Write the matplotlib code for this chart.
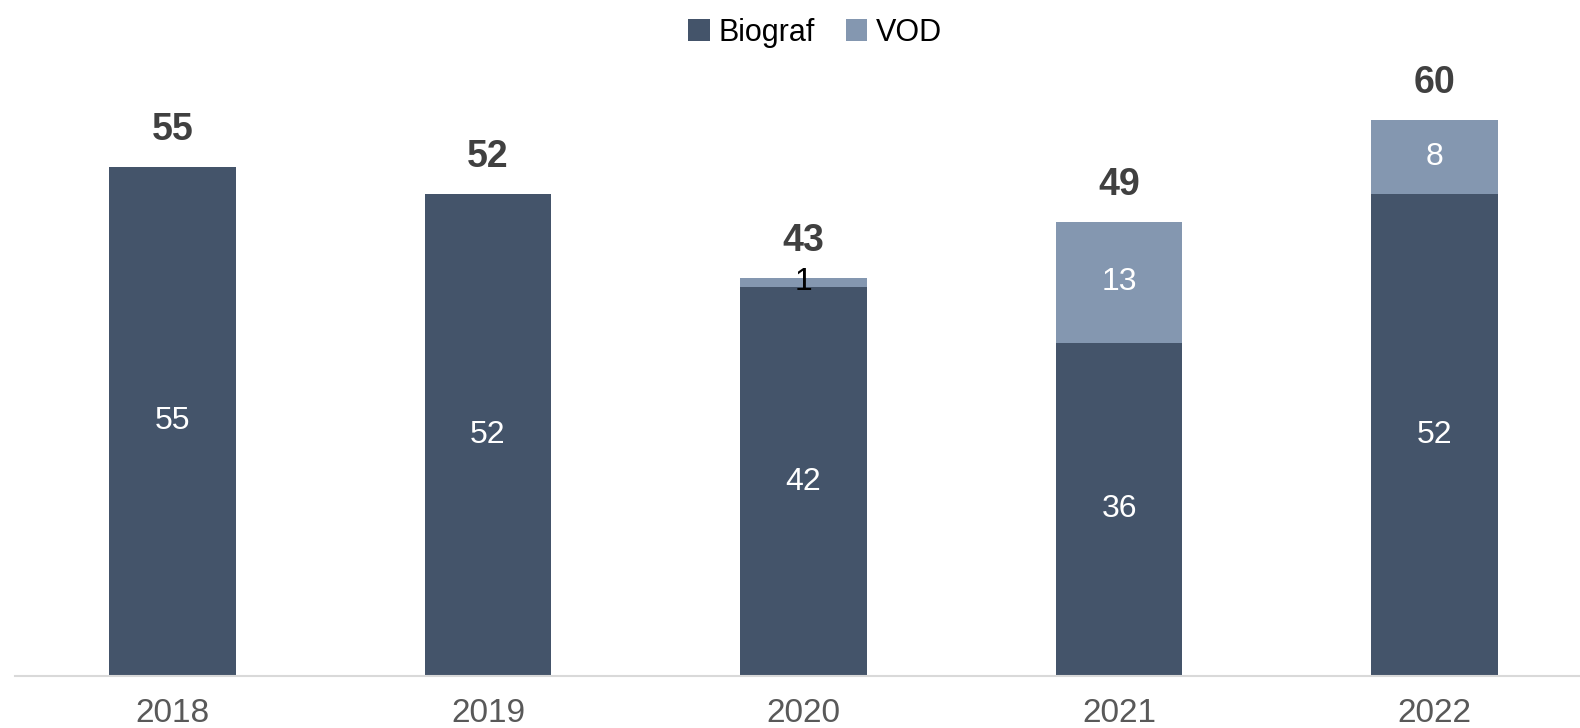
import matplotlib.pyplot as plt
import numpy as np

plt.rcParams["font.family"] = ["Liberation Sans", "DejaVu Sans"]

years = ["2018", "2019", "2020", "2021", "2022"]
biograf = [55, 52, 42, 36, 52]
vod = [0, 0, 1, 13, 8]
totals = [55, 52, 43, 49, 60]

c_bio = "#44546A"
c_vod = "#8497B0"

fig = plt.figure(figsize=(15.8, 7.28), dpi=100)
ax = fig.add_axes([0.00934, 0.0714, 0.99066, 0.9286])

x = np.arange(len(years))
w = 0.40
ax.bar(x, biograf, w, color=c_bio, label="Biograf")
ax.bar(x, vod, w, bottom=biograf, color=c_vod, label="VOD")

for i in range(len(years)):
    ax.text(x[i], biograf[i] / 2, str(biograf[i]), ha="center", va="center",
            color="white", fontsize=23)
    if vod[i] > 0:
        col = "black" if vod[i] < 3 else "white"
        ax.text(x[i], biograf[i] + vod[i] / 2, str(vod[i]), ha="center", va="center",
                color=col, fontsize=23)
    ax.text(x[i], totals[i] + 4.0, str(totals[i]), ha="center", va="center",
            color="#404040", fontsize=27, fontweight="bold")

ax.set_xlim(-0.5, 4.461)
ax.set_ylim(0, 73)
ax.set_xticks(x)
ax.set_xticklabels(years, fontsize=24, color="#595959")
ax.tick_params(axis="x", length=0, pad=16)
ax.set_yticks([])
for s in ["left", "right", "top"]:
    ax.spines[s].set_visible(False)
ax.spines["bottom"].set_color("#D9D9D9")
ax.spines["bottom"].set_linewidth(1.5)

fig.legend(loc="center", bbox_to_anchor=(0.516, 0.955), ncol=2, frameon=False,
           fontsize=22, handlelength=0.7, handleheight=0.7, handletextpad=0.3,
           columnspacing=1.0)

fig.savefig("out.png", dpi=100)
